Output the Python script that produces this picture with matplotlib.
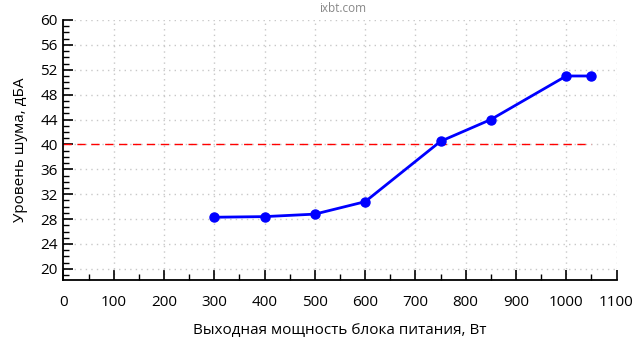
import matplotlib.pyplot as plt
from matplotlib.ticker import MultipleLocator

plt.rcParams['font.family'] = ['Open Sans', 'DejaVu Sans']

power = [300, 400, 500, 600, 750, 850, 1000, 1050]
noise = [28.3, 28.4, 28.8, 30.8, 40.5, 44.0, 51.0, 51.0]
limit_x = [0, 1050]
limit_y = [40, 40]

fig = plt.figure(figsize=(6.4, 3.6), dpi=100)
ax = fig.add_axes([0.0992, 0.222, 0.8641, 0.7225])

ax.plot(limit_x, limit_y, color='red', linestyle=(0, (6, 4)), linewidth=1, zorder=2)
ax.plot(power, noise, color='blue', linewidth=2, marker='o', markersize=6.5, zorder=3)

ax.set_xlim(0, 1100)
ax.set_ylim(18.2, 60)
ax.xaxis.set_major_locator(MultipleLocator(100))
ax.xaxis.set_minor_locator(MultipleLocator(50))
ax.yaxis.set_major_locator(MultipleLocator(4))
ax.yaxis.set_minor_locator(MultipleLocator(1))
ax.set_yticks(range(20, 61, 4))

ax.grid(True, which='major', color='#c8c8c8', linestyle=(0, (1, 3)), linewidth=1)
for s in ['top', 'right']:
    ax.spines[s].set_visible(False)
ax.spines['left'].set_linewidth(1.3)
ax.spines['bottom'].set_linewidth(1.3)

ax.tick_params(which='major', direction='in', length=7, width=1.2, labelsize=11, pad=4)
ax.tick_params(which='minor', direction='in', length=4, width=1)
ax.tick_params(axis='x', pad=11)

ax.set_xlabel('Выходная мощность блока питания, Вт', fontsize=11, labelpad=9)
ax.set_ylabel('Уровень шума, дБА', fontsize=11, labelpad=9)
fig.text(0.536, 0.976, 'ixbt.com', ha='center', va='center', fontsize=8.5, color='#888888')

fig.savefig('out.png')
